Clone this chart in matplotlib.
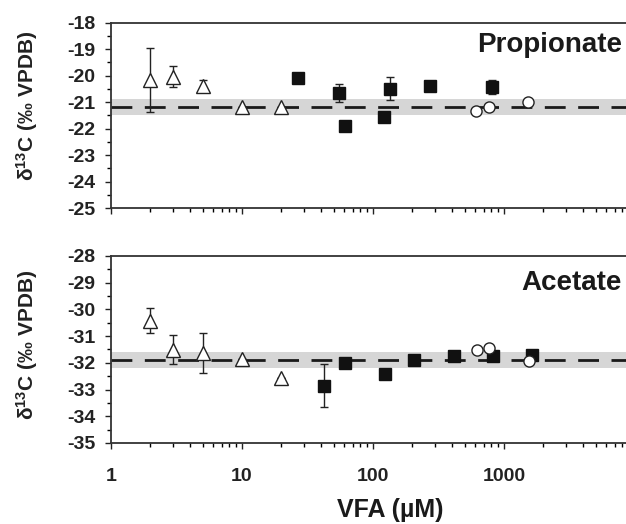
import matplotlib.pyplot as plt
from matplotlib.ticker import LogLocator, NullFormatter, MultipleLocator

# Propionate data
prop_tri_x = [2, 3, 5, 10, 20]
prop_tri_y = [-20.16, -20.04, -20.38, -21.19, -21.2]
prop_tri_err = [1.22, 0.4, 0.2, 0.0, 0.0]
prop_sq_x = [27, 55, 61.5, 121, 136, 274, 810]
prop_sq_y = [-20.09, -20.66, -21.9, -21.57, -20.49, -20.38, -20.43]
prop_sq_err = [0.0, 0.35, 0.0, 0.0, 0.43, 0.0, 0.25]
prop_circ_x = [608, 768, 1525]
prop_circ_y = [-21.32, -21.19, -20.99]
prop_mean = -21.2

# Acetate data
acet_tri_x = [2, 3, 5, 10, 20]
acet_tri_y = [-30.42, -31.51, -31.63, -31.86, -32.57]
acet_tri_err = [0.48, 0.55, 0.74, 0.0, 0.0]
acet_sq_x = [42, 61.5, 124, 206, 413, 820, 1645]
acet_sq_y = [-32.86, -32.02, -32.4, -31.9, -31.73, -31.76, -31.72]
acet_sq_err = [0.8, 0.0, 0.0, 0.0, 0.0, 0.0, 0.0]
acet_circ_x = [625, 773, 1545]
acet_circ_y = [-31.52, -31.43, -31.93]
acet_mean = -31.9

band = 0.3

plt.rcParams['font.family'] = ['Liberation Sans', 'DejaVu Sans']
plt.rcParams['font.weight'] = 'bold'
plt.rcParams['mathtext.fontset'] = 'custom'
plt.rcParams['mathtext.rm'] = 'Liberation Sans:bold'
plt.rcParams['mathtext.default'] = 'regular'

fig = plt.figure(figsize=(6.26, 5.24), dpi=100)
ax1 = fig.add_axes([0.1773, 0.603, 0.837, 0.3537])
ax2 = fig.add_axes([0.1773, 0.1546, 0.837, 0.3569])


def draw_panel(ax, tri, sq, circ, mean, ylim, name, name_y):
    ax.axhspan(mean - band, mean + band, color='#d6d6d6', lw=0, zorder=0)
    ax.axhline(mean, color='#1a1a1a', lw=2, dashes=(7.5, 4.5), zorder=1)
    for x, y, e in [tri, sq]:
        ax.errorbar(x, y, yerr=e, fmt='none', ecolor='#222222', elinewidth=1,
                    capsize=3, capthick=1, zorder=2)
    ax.plot(tri[0], tri[1], '^', ms=9.5, mfc='white', mec='#222222', mew=1, zorder=3)
    ax.plot(sq[0], sq[1], 's', ms=8.5, mfc='#111111', mec='#111111', mew=1, zorder=3)
    ax.plot(circ[0], circ[1], 'o', ms=8, mfc='white', mec='#222222', mew=1, zorder=3)

    ax.set_xscale('log')
    ax.set_xlim(1, 10000)
    ax.set_ylim(*ylim)
    ax.yaxis.set_major_locator(MultipleLocator(1))
    ax.yaxis.set_minor_locator(MultipleLocator(0.5))
    ax.xaxis.set_major_locator(LogLocator(base=10))
    ax.xaxis.set_minor_locator(LogLocator(base=10, subs=range(2, 10)))
    ax.xaxis.set_minor_formatter(NullFormatter())
    ax.spines['right'].set_visible(False)
    for s in ['left', 'top', 'bottom']:
        ax.spines[s].set_linewidth(1.3)
        ax.spines[s].set_color('#333333')
    ax.tick_params(axis='y', which='major', direction='out', length=4, width=1,
                   pad=7, labelsize=14, colors='#222222')
    ax.tick_params(axis='y', which='minor', direction='out', length=3, width=1)
    ax.tick_params(axis='x', which='major', direction='out', length=4, width=1,
                   pad=14, labelsize=14, colors='#222222')
    ax.tick_params(axis='x', which='minor', direction='out', length=3, width=1)
    ax.set_yticklabels([f'{int(v)}' for v in ax.get_yticks()])
    ax.text(0.975, name_y, name, transform=ax.transAxes, ha='right', va='top',
            fontsize=20, fontweight='bold', color='#1a1a1a')
    ax.set_ylabel('δ$^{13}$C (‰ VPDB)', fontsize=15, fontweight='bold',
                  color='#222222')


draw_panel(ax1, (prop_tri_x, prop_tri_y, prop_tri_err),
           (prop_sq_x, prop_sq_y, prop_sq_err),
           (prop_circ_x, prop_circ_y), prop_mean, (-25, -18), 'Propionate', 0.95)
draw_panel(ax2, (acet_tri_x, acet_tri_y, acet_tri_err),
           (acet_sq_x, acet_sq_y, acet_sq_err),
           (acet_circ_x, acet_circ_y), acet_mean, (-35, -28), 'Acetate', 0.925)

ax1.tick_params(axis='x', labelbottom=False)
ax2.set_xticks([1, 10, 100, 1000])
ax2.set_xticklabels(['1', '10', '100', '1000'])
ax2.set_xlim(1, 10000)
ax1.yaxis.set_label_coords(-0.135, 0.55)
ax2.yaxis.set_label_coords(-0.135, 0.524)

fig.text(0.623, 0.027, 'VFA (µM)', ha='center', va='center', fontsize=18,
         fontweight='bold', color='#1a1a1a')

fig.savefig('out.png', dpi=100)
